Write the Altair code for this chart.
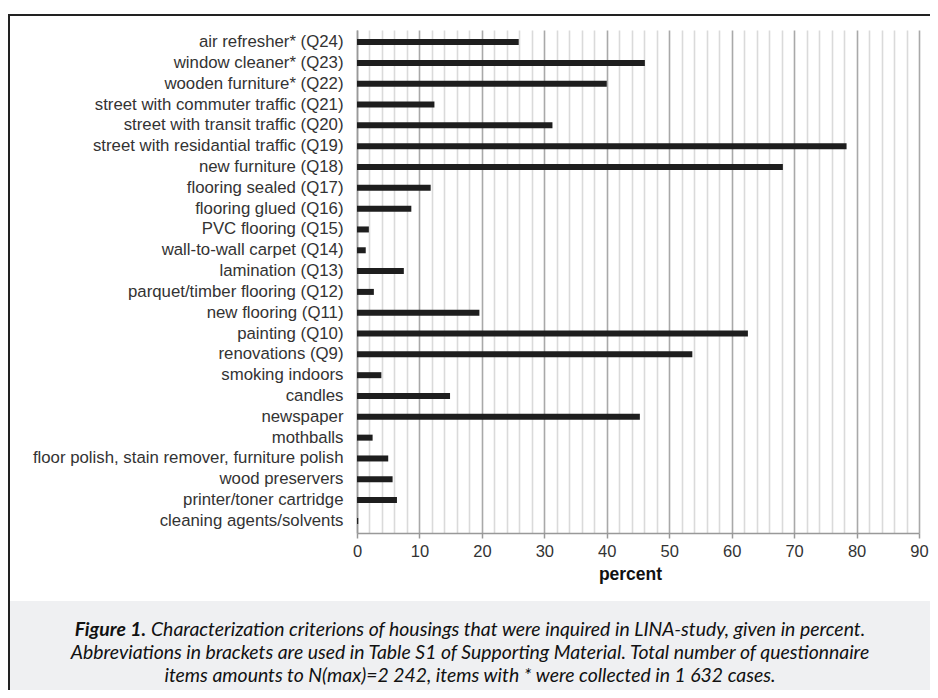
import altair as alt
import pandas as pd

categories = [
    "air refresher* (Q24)",
    "window cleaner* (Q23)",
    "wooden furniture* (Q22)",
    "street with commuter traffic (Q21)",
    "street with transit traffic (Q20)",
    "street with residantial traffic (Q19)",
    "new furniture (Q18)",
    "flooring sealed (Q17)",
    "flooring glued (Q16)",
    "PVC flooring (Q15)",
    "wall-to-wall carpet (Q14)",
    "lamination (Q13)",
    "parquet/timber flooring (Q12)",
    "new flooring (Q11)",
    "painting (Q10)",
    "renovations (Q9)",
    "smoking indoors\u00a0",
    "candles\u00a0",
    "newspaper\u00a0",
    "mothballs",
    "floor polish, stain remover, furniture polish\u00a0",
    "wood preservers",
    "printer/toner cartridge",
    "cleaning agents/solvents",
]
percent = [25.9, 46.1, 40.0, 12.4, 31.3, 78.4, 68.2, 11.8, 8.7, 1.9, 1.4, 7.5,
           2.7, 19.6, 62.6, 53.7, 3.9, 14.9, 45.3, 2.5, 5.0, 5.7, 6.4, 0.2]
x_tick_values = list(range(0, 91, 2))

caption_bold = "Figure 1."
caption_line1 = "Characterization criterions of housings that were inquired in LINA-study, given in percent."
caption_line2 = "Abbreviations in brackets are used in Table S1 of Supporting Material. Total number of questionnaire"
caption_line3 = "items amounts to N(max)=2 242, items with * were collected in 1 632 cases."

df = pd.DataFrame({"item": categories, "percent": percent})

W, H = 562, 503
PAD_L, PAD_T, PAD_R, PAD_B = 349, 22, 11, 157
LABEL_FONT = "Liberation Sans"
CAP_FONT = "Lato"
CAP_SIZE = 19.4

x_axis = alt.Axis(
    values=x_tick_values,
    labelExpr="datum.value % 10 === 0 ? datum.label : ''",
    labelFont=LABEL_FONT, labelFontSize=16.5, labelColor="#333333", labelPadding=5,
    labelFlush=False,
    title="percent", titleFont=LABEL_FONT, titleFontSize=17.5, titleFontWeight="bold",
    titleColor="#111111", titlePadding=6, titleX=273,
    domainColor="#999999", domainWidth=1.5,
    tickColor={"condition": {"test": "datum.value % 10 === 0", "value": "#999999"}, "value": "transparent"},
    tickSize=5, tickWidth=1.5,
    grid=True,
    gridColor={"condition": {"test": "datum.value % 10 === 0", "value": "#a9a9a9"}, "value": "#dadada"},
    gridWidth=1.6,
)

y_axis = alt.Axis(
    title=None, ticks=False, labelPadding=14,
    labelFont=LABEL_FONT, labelFontSize=16.8, labelColor="#333333",
    domainColor="#999999", domainWidth=1.5, grid=False, labelLimit=400,
)

bars = alt.Chart(df).mark_bar(size=6, color="#1e1e1e").encode(
    x=alt.X("percent:Q", scale=alt.Scale(domain=[0, 90], nice=False), axis=x_axis),
    y=alt.Y("item:N", sort=categories,
            scale=alt.Scale(paddingInner=0, paddingOuter=0.08), axis=y_axis),
)

one = alt.Data(values=[{}])

caption_bg = alt.Chart(one).mark_rect(color="#eff0f2").encode(
    x=alt.value(-347), x2=alt.value(W + PAD_R), y=alt.value(571), y2=alt.value(H + PAD_B)
)
frame_top = alt.Chart(one).mark_rule(color="#222222", strokeWidth=2).encode(
    x=alt.value(-349), x2=alt.value(W + PAD_R), y=alt.value(-15)
)
frame_left = alt.Chart(one).mark_rule(color="#222222", strokeWidth=2).encode(
    x=alt.value(-348), y=alt.value(-16), y2=alt.value(H + PAD_B)
)

def cap_text(txt, x, y, align, bold=False):
    return alt.Chart(one).mark_text(
        font=CAP_FONT, fontSize=CAP_SIZE, fontStyle="italic",
        fontWeight="bold" if bold else "normal", color="#111111",
        align=align, baseline="middle",
    ).encode(x=alt.value(x), y=alt.value(y), text=alt.value(txt))

cap1b = cap_text(caption_bold, -211, 600, "right", bold=True)
cap1 = cap_text(caption_line1, -206, 600, "left")
cap2 = cap_text(caption_line2, 113, 623, "center")
cap3 = cap_text(caption_line3, 113, 646, "center")

chart = alt.layer(
    caption_bg, bars, frame_top, frame_left, cap1b, cap1, cap2, cap3
).properties(
    width=W, height=H,
    autosize=alt.AutoSizeParams(type="none"),
    padding={"left": PAD_L, "top": PAD_T, "right": PAD_R, "bottom": PAD_B},
).configure_view(stroke=None)

chart.save("out.html", embed_options={"renderer": "svg", "actions": False})
